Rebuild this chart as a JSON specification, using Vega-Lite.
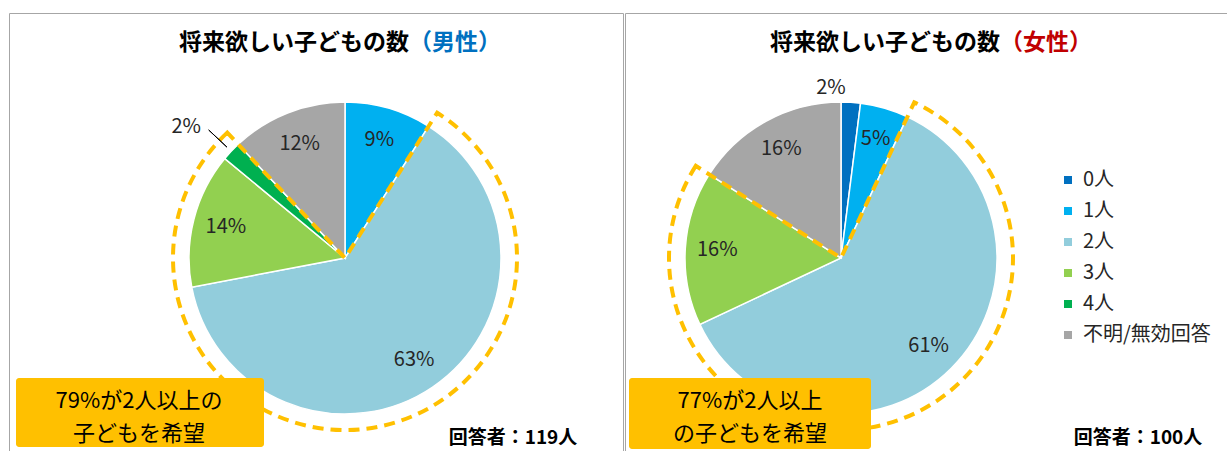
{
  "$schema": "https://vega.github.io/schema/vega-lite/v6.json",
  "padding": {"left": 8, "top": 12, "right": 0, "bottom": 0},
  "spacing": 0,
  "background": "white",
  "config": {
    "view": {"stroke": "#a6a6a6", "strokeWidth": 1},
    "font": "Noto Sans CJK JP"
  },
  "resolve": {"scale": {"color": "independent", "theta": "independent"}},
  "hconcat": [
    {
      "width": 614,
      "height": 438,
      "layer": [
        {
          "data": {"values": [
            {"cat": "1人", "v": 0.09, "n": 1},
            {"cat": "2人", "v": 0.63, "n": 2},
            {"cat": "3人", "v": 0.14, "n": 3},
            {"cat": "4人", "v": 0.02, "n": 4},
            {"cat": "不明/無効回答", "v": 0.12, "n": 5}
          ]},
          "mark": {"type": "arc", "outerRadius": 156, "stroke": "white", "strokeWidth": 1.5},
          "encoding": {
            "theta": {"field": "v", "type": "quantitative", "stack": true},
            "order": {"field": "n", "type": "quantitative"},
            "color": {"field": "cat", "type": "nominal",
              "scale": {"domain": ["0人","1人","2人","3人","4人","不明/無効回答"], "range": ["#0070C0","#00B0F0","#92CDDC","#92D050","#00B050","#A6A6A6"]},
              "legend": null},
            "x": {"value": 336},
            "y": {"value": 245}
          }
        },
        {
          "data": {"values": [
            {"seg": "before", "v": 0.09, "n": 1},
            {"seg": "2人以上", "v": 0.79, "n": 2},
            {"seg": "after", "v": 0.12, "n": 3}
          ]},
          "mark": {"type": "arc", "outerRadius": 172, "filled": false, "stroke": "#FFC000", "strokeWidth": 4, "strokeDash": [11, 7]},
          "encoding": {
            "theta": {"field": "v", "type": "quantitative", "stack": true},
            "order": {"field": "n", "type": "quantitative"},
            "strokeOpacity": {"condition": {"test": "datum.seg === '2人以上'", "value": 1}, "value": 0},
            "x": {"value": 336},
            "y": {"value": 245}
          }
        },
        {
          "data": {"values": [
            {"cat": "1人", "v": 0.09, "n": 1},
            {"cat": "2人", "v": 0.63, "n": 2},
            {"cat": "3人", "v": 0.14, "n": 3},
            {"cat": "4人", "v": 0.02, "n": 4},
            {"cat": "不明/無効回答", "v": 0.12, "n": 5}
          ]},
          "mark": {"type": "arc", "innerRadius": 162, "outerRadius": 187, "padAngle": 0.3, "filled": false, "stroke": "#000000", "strokeWidth": 1},
          "encoding": {
            "theta": {"field": "v", "type": "quantitative", "stack": true},
            "order": {"field": "n", "type": "quantitative"},
            "strokeOpacity": {"condition": {"test": "datum.v < 0.05", "value": 1}, "value": 0},
            "x": {"value": 336},
            "y": {"value": 245}
          }
        },
        {
          "data": {"values": [
            {"cat": "1人", "v": 0.09, "n": 1},
            {"cat": "2人", "v": 0.63, "n": 2},
            {"cat": "3人", "v": 0.14, "n": 3},
            {"cat": "4人", "v": 0.02, "n": 4},
            {"cat": "不明/無効回答", "v": 0.12, "n": 5}
          ]},
          "mark": {"type": "text", "radius": 123, "fontSize": 20, "fill": "#262626"},
          "encoding": {
            "theta": {"field": "v", "type": "quantitative", "stack": true},
            "order": {"field": "n", "type": "quantitative"},
            "text": {"condition": {"test": "datum.v < 0.05", "value": ""}, "field": "v", "type": "quantitative", "format": ".0%"},
            "x": {"value": 336},
            "y": {"value": 245}
          }
        },
        {
          "data": {"values": [
            {"cat": "1人", "v": 0.09, "n": 1},
            {"cat": "2人", "v": 0.63, "n": 2},
            {"cat": "3人", "v": 0.14, "n": 3},
            {"cat": "4人", "v": 0.02, "n": 4},
            {"cat": "不明/無効回答", "v": 0.12, "n": 5}
          ]},
          "mark": {"type": "text", "radius": 192, "fontSize": 20, "fill": "#262626", "align": "right", "dx": -4},
          "encoding": {
            "theta": {"field": "v", "type": "quantitative", "stack": true},
            "order": {"field": "n", "type": "quantitative"},
            "text": {"condition": {"test": "datum.v >= 0.05", "value": ""}, "field": "v", "type": "quantitative", "format": ".0%"},
            "x": {"value": 336},
            "y": {"value": 245}
          }
        },
        {
          "data": {"values": [{}]},
          "mark": {"type": "text", "text": "将来欲しい子どもの数", "fontSize": 23, "fontWeight": "bold", "fill": "#000000", "align": "right", "baseline": "middle"},
          "encoding": {"x": {"value": 400}, "y": {"value": 30}}
        },
        {
          "data": {"values": [{}]},
          "mark": {"type": "text", "text": "（男性）", "fontSize": 23, "fontWeight": "bold", "fill": "#0070C0", "align": "left", "baseline": "middle"},
          "encoding": {"x": {"value": 400}, "y": {"value": 30}}
        },
        {
          "data": {"values": [{}]},
          "mark": {"type": "rect", "fill": "#FFC000", "cornerRadius": 3},
          "encoding": {"x": {"value": 7}, "x2": {"value": 255}, "y": {"value": 365}, "y2": {"value": 434}}
        },
        {
          "data": {"values": [{}]},
          "mark": {"type": "text", "text": "79%が2人以上の", "fontSize": 22, "fill": "#000000", "align": "center", "baseline": "middle"},
          "encoding": {"x": {"value": 130}, "y": {"value": 388}}
        },
        {
          "data": {"values": [{}]},
          "mark": {"type": "text", "text": "子どもを希望", "fontSize": 22, "fill": "#000000", "align": "center", "baseline": "middle"},
          "encoding": {"x": {"value": 130}, "y": {"value": 421}}
        },
        {
          "data": {"values": [{}]},
          "mark": {"type": "text", "text": "回答者：119人", "fontSize": 19, "fontWeight": "bold", "fill": "#000000", "align": "center", "baseline": "middle"},
          "encoding": {"x": {"value": 504}, "y": {"value": 425}}
        }
      ]
    },
    {
      "width": 604,
      "height": 438,
      "layer": [
        {
          "data": {"values": [
            {"cat": "0人", "v": 0.02, "n": 0},
            {"cat": "1人", "v": 0.05, "n": 1},
            {"cat": "2人", "v": 0.61, "n": 2},
            {"cat": "3人", "v": 0.16, "n": 3},
            {"cat": "不明/無効回答", "v": 0.16, "n": 5}
          ]},
          "mark": {"type": "arc", "outerRadius": 156, "stroke": "white", "strokeWidth": 1.5},
          "encoding": {
            "theta": {"field": "v", "type": "quantitative", "stack": true},
            "order": {"field": "n", "type": "quantitative"},
            "color": {"field": "cat", "type": "nominal",
              "scale": {"domain": ["0人","1人","2人","3人","4人","不明/無効回答"], "range": ["#0070C0","#00B0F0","#92CDDC","#92D050","#00B050","#A6A6A6"]},
              "legend": {"orient": "none", "legendX": 433, "legendY": 157, "title": null, "symbolType": "square", "symbolSize": 64, "symbolStrokeWidth": 0, "labelFontSize": 20, "labelFont": "Noto Sans CJK JP", "labelColor": "#262626", "rowPadding": 11, "labelOffset": 5}},
            "x": {"value": 216},
            "y": {"value": 245}
          }
        },
        {
          "data": {"values": [
            {"seg": "before", "v": 0.07, "n": 1},
            {"seg": "2人以上", "v": 0.77, "n": 2},
            {"seg": "after", "v": 0.16, "n": 3}
          ]},
          "mark": {"type": "arc", "outerRadius": 172, "filled": false, "stroke": "#FFC000", "strokeWidth": 4, "strokeDash": [11, 7]},
          "encoding": {
            "theta": {"field": "v", "type": "quantitative", "stack": true},
            "order": {"field": "n", "type": "quantitative"},
            "strokeOpacity": {"condition": {"test": "datum.seg === '2人以上'", "value": 1}, "value": 0},
            "x": {"value": 216},
            "y": {"value": 245}
          }
        },
        {
          "data": {"values": [
            {"cat": "0人", "v": 0.02, "n": 0},
            {"cat": "1人", "v": 0.05, "n": 1},
            {"cat": "2人", "v": 0.61, "n": 2},
            {"cat": "3人", "v": 0.16, "n": 3},
            {"cat": "不明/無効回答", "v": 0.16, "n": 5}
          ]},
          "mark": {"type": "text", "radius": 124, "fontSize": 20, "fill": "#262626"},
          "encoding": {
            "theta": {"field": "v", "type": "quantitative", "stack": true},
            "order": {"field": "n", "type": "quantitative"},
            "text": {"condition": {"test": "datum.v < 0.05", "value": ""}, "field": "v", "type": "quantitative", "format": ".0%"},
            "x": {"value": 216},
            "y": {"value": 245}
          }
        },
        {
          "data": {"values": [
            {"cat": "0人", "v": 0.02, "n": 0},
            {"cat": "1人", "v": 0.05, "n": 1},
            {"cat": "2人", "v": 0.61, "n": 2},
            {"cat": "3人", "v": 0.16, "n": 3},
            {"cat": "不明/無効回答", "v": 0.16, "n": 5}
          ]},
          "mark": {"type": "text", "radius": 170, "fontSize": 20, "fill": "#262626", "align": "right", "dx": -6},
          "encoding": {
            "theta": {"field": "v", "type": "quantitative", "stack": true},
            "order": {"field": "n", "type": "quantitative"},
            "text": {"condition": {"test": "datum.v >= 0.05", "value": ""}, "field": "v", "type": "quantitative", "format": ".0%"},
            "x": {"value": 216},
            "y": {"value": 245}
          }
        },
        {
          "data": {"values": [{}]},
          "mark": {"type": "text", "text": "将来欲しい子どもの数", "fontSize": 23, "fontWeight": "bold", "fill": "#000000", "align": "right", "baseline": "middle"},
          "encoding": {"x": {"value": 375}, "y": {"value": 30}}
        },
        {
          "data": {"values": [{}]},
          "mark": {"type": "text", "text": "（女性）", "fontSize": 23, "fontWeight": "bold", "fill": "#C00000", "align": "left", "baseline": "middle"},
          "encoding": {"x": {"value": 375}, "y": {"value": 30}}
        },
        {
          "data": {"values": [{}]},
          "mark": {"type": "rect", "fill": "#FFC000", "cornerRadius": 3},
          "encoding": {"x": {"value": 4}, "x2": {"value": 246}, "y": {"value": 365}, "y2": {"value": 436}}
        },
        {
          "data": {"values": [{}]},
          "mark": {"type": "text", "text": "77%が2人以上", "fontSize": 22, "fill": "#000000", "align": "center", "baseline": "middle"},
          "encoding": {"x": {"value": 125}, "y": {"value": 388}}
        },
        {
          "data": {"values": [{}]},
          "mark": {"type": "text", "text": "の子どもを希望", "fontSize": 22, "fill": "#000000", "align": "center", "baseline": "middle"},
          "encoding": {"x": {"value": 125}, "y": {"value": 421}}
        },
        {
          "data": {"values": [{}]},
          "mark": {"type": "text", "text": "回答者：100人", "fontSize": 19, "fontWeight": "bold", "fill": "#000000", "align": "center", "baseline": "middle"},
          "encoding": {"x": {"value": 513}, "y": {"value": 425}}
        }
      ]
    }
  ]
}
